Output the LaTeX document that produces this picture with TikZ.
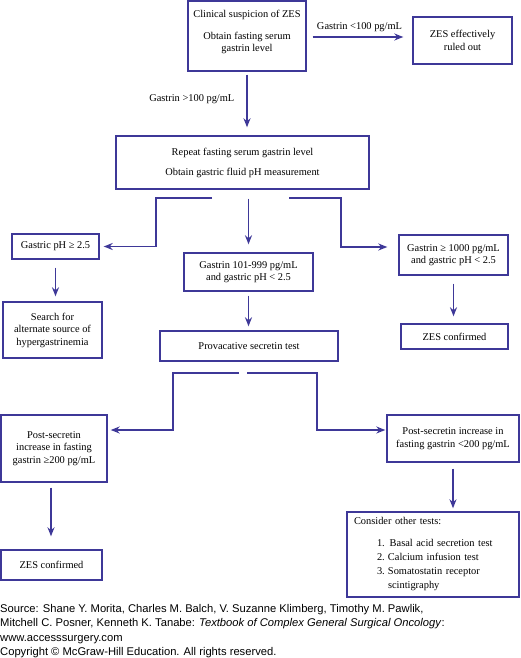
\documentclass[tikz,border=0pt]{standalone}
\usepackage{fontspec}
\setmainfont{Liberation Serif}
\newfontfamily\srcfam{Liberation Sans}
\usetikzlibrary{arrows.meta}
\definecolor{zesblue}{RGB}{62,56,152}
\tikzset{
  zbox/.style={draw=zesblue, line width=1.4pt, inner sep=2pt, align=center,
    font=\fontsize{10.4}{12.5}\selectfont},
  arr/.style={draw=zesblue, line width=1.4pt, -{Stealth[length=9pt,width=7pt]}},
  lbl/.style={inner sep=0pt, font=\fontsize{10.4}{12.5}\selectfont}
}

\begin{document}
\begin{tikzpicture}[x=1pt,y=-1pt]
    \useasboundingbox (0,0) rectangle (520,658);

    \node[zbox, minimum width=118pt, minimum height=70pt] at (247,36) (clinSusp)
      {Clinical suspicion of ZES\\[9pt] Obtain fasting serum\\ gastrin level\\[-3pt]\mbox{}};
    \node[zbox, minimum width=99pt, minimum height=47pt] at (462.5,40.5) (ruledOut)
      {ZES effectively\\ ruled out};
    \node[zbox, minimum width=253pt, minimum height=53pt] at (242.5,162.5) (repeatLvl)
      {Repeat fasting serum gastrin level\\[7.5pt] Obtain gastric fluid pH measurement};
    \node[zbox, minimum width=87pt, minimum height=25pt] at (55.5,246.5) (phHigh)
      {Gastric pH ≥ 2.5};
    \node[zbox, minimum width=129pt, minimum height=38pt] at (248.5,272) (gasMid)
      {Gastrin 101-999 pg/mL\\ and gastric pH < 2.5};
    \node[zbox, minimum width=109pt, minimum height=40pt] at (453.5,255) (gasHigh)
      {Gastrin ≥ 1000 pg/mL\\ and gastric pH < 2.5};
    \node[zbox, minimum width=99pt, minimum height=56pt] at (52.5,330) (altSource)
      {Search for\\ alternate source of\\ hypergastrinemia};
    \node[zbox, minimum width=178pt, minimum height=30pt] at (249,346) (secretin)
      {Provacative secretin test};
    \node[zbox, minimum width=107pt, minimum height=25pt] at (454.5,336.5) (confA)
      {ZES confirmed};
    \node[zbox, minimum width=106pt, minimum height=67pt] at (54,448.5) (postHigh)
      {Post-secretin\\ increase in fasting\\ gastrin ≥200 pg/mL};
    \node[zbox, minimum width=132pt, minimum height=47pt] at (453,438.5) (postLow)
      {Post-secretin increase in\\ fasting gastrin <200 pg/mL};
    \node[zbox, minimum width=101pt, minimum height=30pt] at (51.5,565) (confB)
      {ZES confirmed};
    \node[zbox, align=left, minimum width=172pt, minimum height=85pt, text width=158pt,
      font=\fontsize{10.4}{14}\selectfont] at (433,554.5) (otherTests)
      {Consider other tests:\\[8pt]
       \hspace*{23pt}\makebox[11pt][l]{1.}\,Basal acid secretion test\\
       \hspace*{23pt}\makebox[11pt][l]{2.}Calcium infusion test\\
       \hspace*{23pt}\makebox[11pt][l]{3.}Somatostatin receptor\\
       \hspace*{34pt}scintigraphy};

    \coordinate (splitL) at (212,198);
    \coordinate (splitR) at (289,198);
    \coordinate (forkL) at (239,373);
    \coordinate (forkR) at (247,373);

    \draw[arr, shorten <=6pt, shorten >=9pt] (clinSusp.east |- 0,37) -- (ruledOut.west |- 0,37)
      node[lbl, midway, above=5pt] {Gastrin <100 pg/mL};
    \draw[arr, shorten <=3pt, shorten >=8pt] (clinSusp.south) -- (clinSusp.south |- repeatLvl.north)
      node[lbl, midway, left=12pt, yshift=4pt] {Gastrin >100 pg/mL};
    \draw[arr, shorten <=9pt, shorten >=8pt] (gasMid.north |- repeatLvl.south) -- (gasMid.north);
    \draw[arr, shorten >=4pt] (splitL) -- ++(-56,0) |- (phHigh.east);
    \draw[arr, shorten >=11pt] (splitR) -- ++(52,0) |- ([yshift=8pt]gasHigh.west);
    \draw[arr, shorten <=8pt, shorten >=5pt] (phHigh.south) -- (phHigh.south |- altSource.north);
    \draw[arr, shorten <=4pt, shorten >=4pt] (gasMid.south) -- (gasMid.south |- secretin.north);
    \draw[arr, shorten <=8pt, shorten >=7pt] (gasHigh.south) -- (gasHigh.south |- confA.north);
    \draw[arr, shorten >=3pt] (forkL) -- ++(-66,0) |- ([yshift=18.5pt]postHigh.east);
    \draw[arr, shorten >=1pt] (forkR) -- ++(70,0) |- ([yshift=8.5pt]postLow.west);
    \draw[arr, shorten <=5pt, shorten >=13pt] (postHigh.south -| 51,0) -- (confB.north -| 51,0);
    \draw[arr, shorten <=6pt, shorten >=3pt] (postLow.south) -- (postLow.south |- otherTests.north);

    \node[anchor=base west, inner sep=0pt, align=left, font=\srcfam\fontsize{11.2}{14.5}\selectfont]
      at (0,655.5) (source)
      {Source: Shane Y. Morita, Charles M. Balch, V. Suzanne Klimberg, Timothy M. Pawlik,\\
       Mitchell C. Posner, Kenneth K. Tanabe: \textit{Textbook of Complex General Surgical Oncology}:\\
       www.accesssurgery.com\\
       Copyright © McGraw-Hill Education. All rights reserved.};
\end{tikzpicture}
\end{document}
